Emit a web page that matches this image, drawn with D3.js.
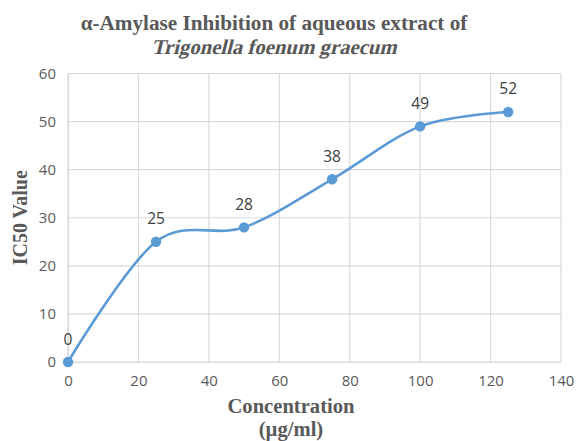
<!DOCTYPE html>
<html>
<head>
<meta charset="utf-8">
<script src="https://cdn.jsdelivr.net/npm/d3@7"></script>
<style>
  html, body { margin: 0; padding: 0; background: #ffffff; }
  svg { display: block; }
</style>
</head>
<body>
<svg id="chart" width="576" height="441"></svg>
<script>
// Concentration (µg/ml) and measured IC50 values
const concentrations = [0, 25, 50, 75, 100, 125];
const ic50Values = [0, 25, 28, 38, 49, 52];
const xTicks = [0, 20, 40, 60, 80, 100, 120, 140];
const yTicks = [0, 10, 20, 30, 40, 50, 60];
const titleLines = ["α-Amylase Inhibition of aqueous extract of", "Trigonella foenum graecum"];

const W = 576, H = 441;
const margin = { left: 68, right: 15, top: 73.5, bottom: 79 };
const svg = d3.select("#chart");

const x = d3.scaleLinear().domain([0, 140]).range([margin.left, W - margin.right]);
const y = d3.scaleLinear().domain([0, 60]).range([H - margin.bottom, margin.top]);

const gridColor = "#d9d9d9";
const textColor = "#595959";
const lineColor = "#5b9bd5";
const sans = "'Open Sans', 'Liberation Sans', sans-serif";
const serif = "'Liberation Serif', 'Times New Roman', 'DejaVu Serif', serif";

// Gridlines
svg.append("g").selectAll("line").data(yTicks).join("line")
  .attr("x1", x(0)).attr("x2", x(140))
  .attr("y1", d => y(d)).attr("y2", d => y(d))
  .attr("stroke", gridColor).attr("stroke-width", 1.2);
svg.append("g").selectAll("line").data(xTicks).join("line")
  .attr("y1", y(0)).attr("y2", y(60))
  .attr("x1", d => x(d)).attr("x2", d => x(d))
  .attr("stroke", gridColor).attr("stroke-width", 1.2);

// Axes (tick labels only)
const xAxis = svg.append("g")
  .attr("transform", `translate(0,${y(0)})`)
  .call(d3.axisBottom(x).tickValues(xTicks).tickSize(0).tickPadding(13));
xAxis.select(".domain").attr("stroke", gridColor).attr("stroke-width", 1.2);
xAxis.selectAll("text").attr("fill", textColor)
  .style("font-family", sans).style("font-size", "15px");

const yAxis = svg.append("g")
  .attr("transform", `translate(${x(0)},0)`)
  .call(d3.axisLeft(y).tickValues(yTicks).tickSize(0).tickPadding(12));
yAxis.select(".domain").attr("stroke", gridColor).attr("stroke-width", 1.2);
yAxis.selectAll("text").attr("fill", textColor)
  .style("font-family", sans).style("font-size", "15px");

// Smoothed series line
const pts = concentrations.map((c, i) => [c, ic50Values[i]]);
const line = d3.line()
  .x(d => x(d[0])).y(d => y(d[1]))
  .curve(d3.curveCardinal.tension(0));
svg.append("path").datum(pts)
  .attr("d", line)
  .attr("fill", "none")
  .attr("stroke", lineColor)
  .attr("stroke-width", 2.6);

// Markers
svg.append("g").selectAll("circle").data(pts).join("circle")
  .attr("cx", d => x(d[0])).attr("cy", d => y(d[1]))
  .attr("r", 5.2).attr("fill", lineColor);

// Data labels
svg.append("g").selectAll("text").data(pts).join("text")
  .attr("x", d => x(d[0])).attr("y", d => y(d[1]) - 17.5)
  .attr("text-anchor", "middle")
  .attr("fill", "#404040")
  .style("font-family", sans)
  .style("font-size", "15.5px")
  .text(d => d[1]);

// Title: first line bold, second line (species name) slanted
svg.append("text").attr("x", 274).attr("y", 30)
  .attr("text-anchor", "middle").attr("fill", textColor)
  .style("font-family", serif).style("font-weight", "bold").style("font-size", "21.2px")
  .text(titleLines[0]);
svg.append("text").attr("transform", "translate(274,54) skewX(-14)")
  .attr("text-anchor", "middle").attr("fill", textColor)
  .attr("textLength", 245).attr("lengthAdjust", "spacingAndGlyphs")
  .style("font-family", serif).style("font-weight", "bold").style("font-size", "21px")
  .text(titleLines[1]);

// Axis titles
svg.append("text").attr("transform", `translate(27,${(y(0) + y(60)) / 2}) rotate(-90)`)
  .attr("text-anchor", "middle").attr("fill", textColor)
  .style("font-family", serif).style("font-weight", "bold").style("font-size", "20px")
  .text("IC50 Value");
svg.append("text").attr("x", 291).attr("y", 413)
  .attr("text-anchor", "middle").attr("fill", textColor)
  .style("font-family", serif).style("font-weight", "bold").style("font-size", "20.6px")
  .text("Concentration");
svg.append("text").attr("x", 291).attr("y", 436)
  .attr("text-anchor", "middle").attr("fill", textColor)
  .style("font-family", serif).style("font-weight", "bold").style("font-size", "20.6px")
  .text("(µg/ml)");
</script>
</body>
</html>
